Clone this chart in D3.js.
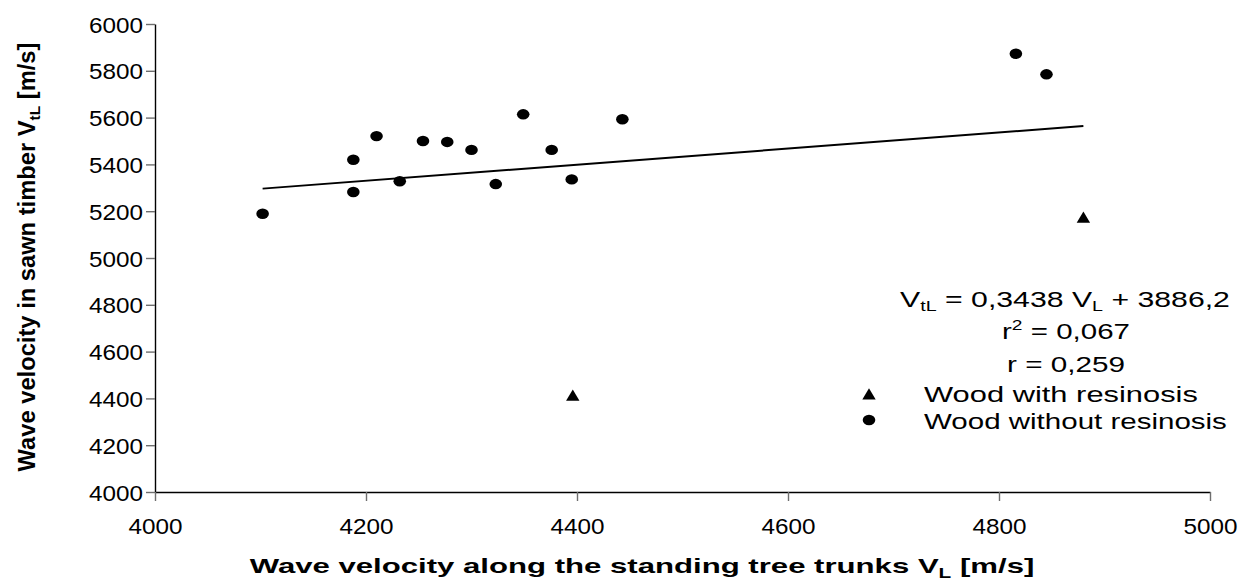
<!DOCTYPE html>
<html lang="en">
<head>
<meta charset="utf-8">
<title>wave velocity</title>
<script src="https://d3js.org/d3.v7.min.js"></script>
<style>
  body { margin: 0; background: #fff; }
  text { font-family: "Liberation Sans", Arial, sans-serif; fill: #000; }
</style>
</head>
<body>
<svg id="chart" width="1244" height="584"></svg>
<script>

// wood without resinosis (circles)
const withoutX = [4102, 4188, 4188, 4210, 4232, 4254, 4277, 4300, 4323, 4349, 4376, 4395, 4443, 4816, 4845];
const withoutY = [5189, 5420, 5282, 5521, 5328, 5500, 5496, 5462, 5316, 5614, 5462, 5336, 5593, 5873, 5785];

// wood with resinosis (triangles)
const withX = [4880, 4396];
const withY = [5174, 4413];

const xTicks = [4000, 4200, 4400, 4600, 4800, 5000];
const yTicks = [4000, 4200, 4400, 4600, 4800, 5000, 5200, 5400, 5600, 5800, 6000];

const slope = 0.3438;
const intercept = 3886.2;

const legendLabels = ["Wood with resinosis", "Wood without resinosis"];

let svg = d3.select('#chart');

let x = d3.scaleLinear().domain([4000, 5000]).range([155, 1210]);
let y = d3.scaleLinear().domain([4000, 6000]).range([492, 24]);

// stretch a text horizontally so it spans the given width
function fit(t, target, tx, ty, rot) {
    let w = t.node().getBBox().width;
    let k = target / w;
    t.attr('transform', 'translate(' + tx + ',' + ty + ')' + (rot ? ' rotate(' + rot + ')' : '') + ' scale(' + k + ',1)');
}

// axes
let yAxis = svg.append('g')
    .attr('transform', 'translate(155,0)')
    .call(d3.axisLeft(y).tickValues(yTicks).tickFormat(d3.format('d')).tickSize(9).tickSizeOuter(0));

let xAxis = svg.append('g')
    .attr('transform', 'translate(0,492)')
    .call(d3.axisBottom(x).tickValues(xTicks).tickFormat(d3.format('d')).tickSize(9).tickSizeOuter(0));

[yAxis, xAxis].forEach(a => {
    a.select('.domain').attr('stroke', '#000').attr('stroke-width', 1.4);
    a.selectAll('.tick line').attr('stroke', '#6e6e6e').attr('stroke-width', 1.4);
    a.selectAll('.tick text')
        .attr('font-size', 22.5)
        .attr('font-family', '"Liberation Sans", Arial, sans-serif')
        .attr('fill', '#000')
        .attr('x', 0).attr('y', 0).attr('dy', null);
});

yAxis.selectAll('.tick text').attr('text-anchor', 'end').each(function() {
    fit(d3.select(this), 54, -12, 8, 0);
});
xAxis.selectAll('.tick text').attr('text-anchor', 'middle').each(function() {
    fit(d3.select(this), 54, 0, 42, 0);
});

// axis titles
let yTitle = svg.append('text')
    .attr('font-size', 23).attr('font-weight', 'bold')
    .attr('text-anchor', 'middle');
yTitle.append('tspan').text('Wave velocity in sawn timber V');
yTitle.append('tspan').attr('font-size', 15).attr('dy', 5).text('tL');
yTitle.append('tspan').attr('dy', -5).text(' [m/s]');
fit(yTitle, 429, 35, 257, -90);

let xTitle = svg.append('text')
    .attr('font-size', 21).attr('font-weight', 'bold')
    .attr('text-anchor', 'middle');
xTitle.append('tspan').text('Wave velocity along the standing tree trunks V');
xTitle.append('tspan').attr('font-size', 14).attr('dy', 5).text('L');
xTitle.append('tspan').attr('dy', -5).text(' [m/s]');
fit(xTitle, 785, 642, 573, 0);

// regression line over the range of all points
let allX = withoutX.concat(withX);
let ext = d3.extent(allX);
svg.append('path')
    .attr('d', d3.line()(ext.map(v => [x(v), y(slope * v + intercept)])))
    .attr('stroke', '#000').attr('stroke-width', 2).attr('fill', 'none');

// markers
let tri = 'M0,-5.8L6.7,5.5L-6.7,5.5Z';

svg.append('g').selectAll('ellipse')
    .data(withoutX.map((v, i) => [v, withoutY[i]]))
    .enter().append('ellipse')
    .attr('cx', d => x(d[0])).attr('cy', d => y(d[1]))
    .attr('rx', 6.3).attr('ry', 5.2).attr('fill', '#000');

svg.append('g').selectAll('path')
    .data(withX.map((v, i) => [v, withY[i]]))
    .enter().append('path')
    .attr('d', tri)
    .attr('transform', d => 'translate(' + x(d[0]) + ',' + y(d[1]) + ')')
    .attr('fill', '#000');

// regression annotation
let eq = svg.append('text').attr('font-size', 21.5).attr('text-anchor', 'middle');
eq.append('tspan').text('V');
eq.append('tspan').attr('font-size', 14).attr('dy', 4).text('tL');
eq.append('tspan').attr('dy', -4).text(' = 0,3438 V');
eq.append('tspan').attr('font-size', 14).attr('dy', 4).text('L');
eq.append('tspan').attr('dy', -4).text(' + 3886,2');
fit(eq, 330, 1065, 307, 0);

let r2 = svg.append('text').attr('font-size', 21.5).attr('text-anchor', 'middle');
r2.append('tspan').text('r');
r2.append('tspan').attr('font-size', 14).attr('dy', -9).text('2');
r2.append('tspan').attr('dy', 9).text(' = 0,067');
fit(r2, 128, 1066, 339, 0);

let r = svg.append('text').attr('font-size', 21.5).attr('text-anchor', 'middle').text('r = 0,259');
fit(r, 118, 1066, 372, 0);

// legend
svg.append('path').attr('d', tri).attr('transform', 'translate(869,394)').attr('fill', '#000');
svg.append('ellipse').attr('cx', 869).attr('cy', 420).attr('rx', 6.3).attr('ry', 5.2).attr('fill', '#000');

let l1 = svg.append('text').attr('font-size', 21.5).text(legendLabels[0]);
fit(l1, 274, 924, 402, 0);
let l2 = svg.append('text').attr('font-size', 21.5).text(legendLabels[1]);
fit(l2, 303, 924, 429, 0);

</script>
</body>
</html>
